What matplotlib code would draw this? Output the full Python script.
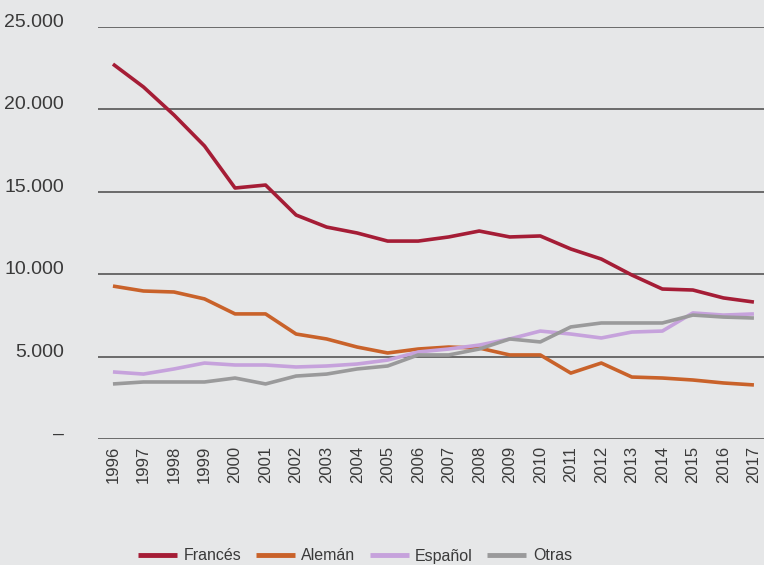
import matplotlib
matplotlib.use("Agg")
import matplotlib.pyplot as plt
from matplotlib.ticker import FixedLocator

years = list(range(1996, 2018))
frances = [22750, 21360, 19660, 17780, 15230, 15410, 13590, 12860, 12500, 12010, 12010,
           12260, 12620, 12260, 12320, 11530, 10920, 9950, 9100, 9040, 8560, 8310]
aleman = [9280, 8980, 8920, 8500, 7590, 7590, 6370, 6070, 5580, 5220, 5460,
          5580, 5520, 5100, 5100, 4000, 4610, 3760, 3700, 3580, 3400, 3280]
espanol = [4070, 3940, 4250, 4610, 4490, 4490, 4370, 4430, 4550, 4790, 5280,
           5460, 5700, 6070, 6550, 6370, 6130, 6490, 6550, 7650, 7520, 7590]
otras = [3340, 3460, 3460, 3460, 3700, 3340, 3820, 3940, 4250, 4430, 5100,
         5100, 5460, 6070, 5890, 6800, 7040, 7040, 7040, 7520, 7400, 7340]

series = [("Francés", frances, "#a51d36"),
          ("Alemán", aleman, "#c9622a"),
          ("Español", espanol, "#c6a2dc"),
          ("Otras", otras, "#9a9a9b")]

yticks = [0, 5000, 10000, 15000, 20000, 25000]
ylabels = ["–", "5.000", "10.000", "15.000", "20.000", "25.000"]

plt.rcParams["font.family"] = ["Liberation Sans", "DejaVu Sans"]
bg = "#e6e7e8"
txt = "#3a3a3a"

fig = plt.figure(figsize=(7.64, 5.65), dpi=100, facecolor=bg)
ax = fig.add_axes([98 / 764, 1 - 439 / 565, 666 / 764, (439 - 27) / 565])
ax.set_facecolor(bg)

for name, vals, col in series:
    ax.plot(years, vals, color=col, lw=2.6, label=name, solid_capstyle="butt")

ax.set_xlim(1995.51, 2017.33)
ax.set_ylim(0, 25000)
for y, lab in zip(yticks, ylabels):
    ax.axhline(y, color="#555555", lw=1.2, zorder=0)
    ax.text(-34 / 666, y, lab, transform=ax.get_yaxis_transform(),
            ha="right", va="baseline", fontsize=14, color=txt)

ax.set_yticks([])
ax.xaxis.set_major_locator(FixedLocator(years))
ax.set_xticklabels([str(y) for y in years], rotation=90, fontsize=12, color=txt)
ax.tick_params(axis="x", length=0, pad=5)
for s in ax.spines.values():
    s.set_visible(False)

leg = fig.legend(loc="center", bbox_to_anchor=(355 / 764, 1 - 556 / 565), ncol=4,
                 frameon=False, handlelength=2.45, columnspacing=0.9, handletextpad=0.4,
                 prop={"size": 11.5})
for t in leg.get_texts():
    t.set_color(txt)
for h in leg.get_lines():
    h.set_linewidth(3.5)

fig.savefig("out.png", dpi=100, facecolor=bg)
